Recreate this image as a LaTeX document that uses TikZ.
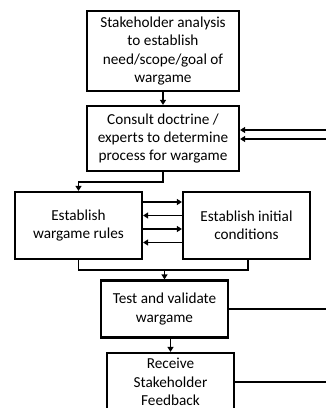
\documentclass[tikz,border=0pt]{standalone}
\usepackage{fontspec}
\setmainfont{Carlito}
\usetikzlibrary{positioning,calc,arrows.meta}

\tikzset{
  stagebox/.style={draw, line width=2.2bp, align=center, inner sep=1bp,
    font=\fontsize{15.3}{18.3}\selectfont},
  flow/.style={line width=1.6bp, -{Triangle[length=5bp,width=6bp]}},
  link/.style={line width=1.6bp}
}

\begin{document}
\begin{tikzpicture}[x=1bp, y=-1bp]
  \useasboundingbox (0,0) rectangle (326,408);
  \clip (0,0) rectangle (326,408);

  % Stages
  \node[stagebox, minimum width=152bp, minimum height=80bp] (goal) at (163,51)
    {Stakeholder analysis\\to establish\\need/scope/goal of\\wargame};
  \node[stagebox, minimum width=152bp, minimum height=65bp] (doctrine) at (163,138.5)
    {Consult doctrine /\\experts to determine\\process for wargame};
  \node[stagebox, minimum width=127bp, minimum height=67bp] (rules) at (78.5,225.5)
    {Establish\\wargame rules};
  \node[stagebox, minimum width=127bp, minimum height=67bp] (init) at (246.5,225.5)
    {Establish initial\\conditions};
  \node[stagebox, minimum width=127bp, minimum height=57bp] (test) at (164.5,309)
    {Test and validate\\wargame};
  \node[stagebox, minimum width=127bp, minimum height=58bp] (feedback) at (170.5,382)
    {Receive\\Stakeholder\\Feedback};

  % Feedback ends at the right edge
  \coordinate (fbA) at (326,130);
  \coordinate (fbB) at (326,139);
  \coordinate (edge) at (326,0);
  \coordinate (merge) at (164.5,270);

  % Main flow
  \draw[flow] (goal) -- (doctrine);
  \draw[flow] (fbA) -- (fbA -| doctrine.east);
  \draw[flow] (fbB) -- (fbB -| doctrine.east);
  \draw[flow] (doctrine.south) -- ++(0,10) -| (rules.north);

  % Rules <-> initial conditions
  \draw[flow] ($(rules.east)+(0,-23.5)$) -- ($(init.west)+(0,-23.5)$);
  \draw[flow] ($(init.west)+(0,-10)$) -- ($(rules.east)+(0,-10)$);
  \draw[flow] ($(rules.east)+(0,3.5)$) -- ($(init.west)+(0,3.5)$);
  \draw[flow] ($(init.west)+(0,17)$) -- ($(rules.east)+(0,17)$);

  % Merge into test
  \draw[link] (rules.south) |- (merge) -| ($(init.south)+(1.5,0)$);
  \draw[flow] (merge) -- (test.north);
  \draw[flow] (test.south -| feedback.north) -- (feedback.north);

  % Outgoing lines
  \draw[link] (test.east) -- (test.east -| edge);
  \draw[link] (feedback.east) -- (feedback.east -| edge);
\end{tikzpicture}
\end{document}
